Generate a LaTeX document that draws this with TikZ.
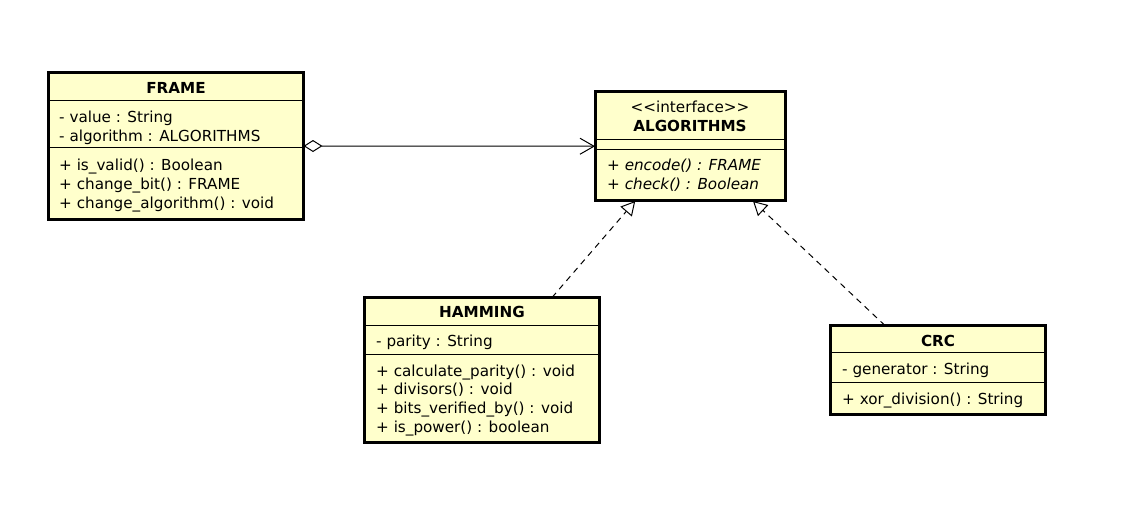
\documentclass[tikz,border=0pt]{standalone}
\usepackage{fontspec}
\setmainfont{DejaVu Sans}
\usetikzlibrary{arrows.meta}
\definecolor{classfill}{HTML}{FFFFCC}

\begin{document}
\begin{tikzpicture}[x=1pt, y=-1pt,
		classbox/.style={draw, line width=3pt, fill=classfill, anchor=north west, inner sep=0pt, outer sep=0pt},
		sepline/.style={line width=1pt},
		classname/.style={anchor=base, inner sep=0pt, font=\fontsize{15.2}{18}\selectfont\bfseries},
		member/.style={anchor=base west, inner sep=0pt, font=\fontsize{15.2}{18}\selectfont},
		realize/.style={line width=1pt, dash pattern=on 6pt off 5pt, -{Triangle[open, length=14pt, width=15pt]}}]
		\useasboundingbox (0,0) rectangle (1136,521);

		%the four class boxes, placed at their upper left corners
		\node[classbox, minimum width=255pt, minimum height=147pt] (frame) at (48.5,72.5) {};
		\node[classbox, minimum width=190pt, minimum height=109.5pt] (algo) at (595,91.5) {};
		\node[classbox, minimum width=235pt, minimum height=145pt] (hamming) at (364.5,297.5) {};
		\node[classbox, minimum width=215pt, minimum height=89pt] (crc) at (830.5,325.5) {};

		%compartment lines
		\draw[sepline] (frame.west |- 0,101) -- (frame.east |- 0,101);
		\draw[sepline] (frame.west |- 0,148) -- (frame.east |- 0,148);
		\draw[sepline] (algo.west |- 0,139.5) -- (algo.east |- 0,139.5);
		\draw[sepline] (algo.west |- 0,150) -- (algo.east |- 0,150);
		\draw[sepline] (hamming.west |- 0,326) -- (hamming.east |- 0,326);
		\draw[sepline] (hamming.west |- 0,355) -- (hamming.east |- 0,355);
		\draw[sepline] (crc.west |- 0,352.5) -- (crc.east |- 0,352.5);
		\draw[sepline] (crc.west |- 0,383) -- (crc.east |- 0,383);

		%FRAME
		\node[classname] (frametitle) at (176,93.5) {FRAME};
		\node[member] (framea1) at (59,122.5) {- value : String};
		\node[member] (framea2) at (59,141.5) {- algorithm : ALGORITHMS};
		\node[member] (framem1) at (59,170.5) {+ is\_valid() : Boolean};
		\node[member] (framem2) at (59,189.5) {+ change\_bit() : FRAME};
		\node[member] (framem3) at (59,208.5) {+ change\_algorithm() : void};

		%ALGORITHMS (interface)
		\node[classname, font=\fontsize{15.2}{18}\selectfont] (algostereo) at (690,112.5) {<\kern0pt<interface>\kern0pt>};
		\node[classname] (algotitle) at (690,131.5) {ALGORITHMS};
		\node[member, font=\fontsize{15.2}{18}\selectfont\itshape] (algom1) at (607,170.5) {+ encode() : FRAME};
		\node[member, font=\fontsize{15.2}{18}\selectfont\itshape] (algom2) at (607,189.5) {+ check() : Boolean};

		%HAMMING
		\node[classname] (hammingtitle) at (482,318) {HAMMING};
		\node[member] (hamminga1) at (376,346.5) {- parity : String};
		\node[member] (hammingm1) at (376,376.5) {+ calculate\_parity() : void};
		\node[member] (hammingm2) at (376,395) {+ divisors() : void};
		\node[member] (hammingm3) at (376,413.5) {+ bits\_verified\_by() : void};
		\node[member] (hammingm4) at (376,432.5) {+ is\_power() : boolean};

		%CRC
		\node[classname] (crctitle) at (938,346.5) {CRC};
		\node[member] (crca1) at (842,374.5) {- generator : String};
		\node[member] (crcm1) at (842,404.5) {+ xor\_division() : String};

		%relations
		\draw[line width=1pt, {Diamond[open, length=19pt, width=12pt]}-{Straight Barb[length=14pt, width=16pt]}] (frame.east) -- (algo.west);
		\draw[realize] (hamming.46) -- (algo.225);
		\draw[realize] (crc.140) -- (algo.319);
	\end{tikzpicture}
\end{document}
